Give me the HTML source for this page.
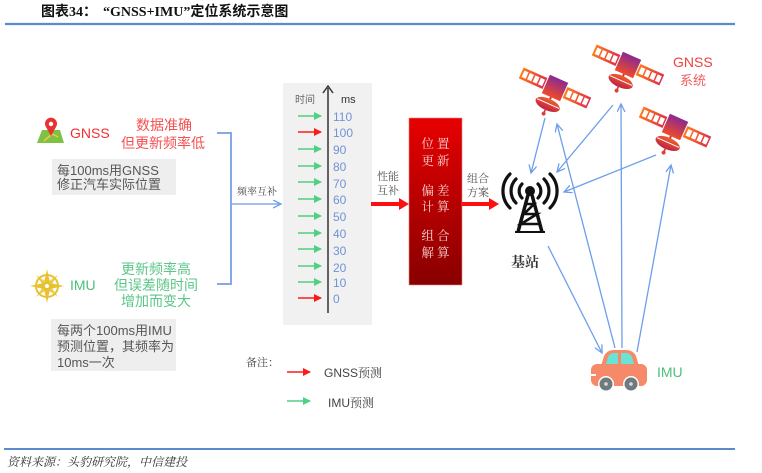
<!DOCTYPE html>
<html><head><meta charset="utf-8"><style>
html,body{margin:0;padding:0;background:#fff;}
svg{display:block;}
.s{font-family:"Liberation Sans","Noto Sans CJK SC",sans-serif;}
.r{font-family:"Liberation Serif","Noto Serif CJK SC",serif;}
</style></head><body>
<svg width="762" height="473" viewBox="0 0 762 473" xmlns="http://www.w3.org/2000/svg">
<defs>
<linearGradient id="redbox" x1="0" y1="0" x2="0" y2="1"><stop offset="0" stop-color="#e60000"/><stop offset="1" stop-color="#880000"/></linearGradient>
<linearGradient id="sg" x1="0" y1="0" x2="1" y2="0"><stop offset="0" stop-color="#ff7a1a"/><stop offset="1" stop-color="#e0304a"/></linearGradient>
<linearGradient id="sb" x1="0" y1="0" x2="0" y2="1"><stop offset="0" stop-color="#8a2a90"/><stop offset="1" stop-color="#f04a2a"/></linearGradient>
<linearGradient id="sd" x1="0" y1="0" x2="0" y2="1"><stop offset="0" stop-color="#f06030"/><stop offset="1" stop-color="#c02040"/></linearGradient>
<marker id="ab" markerUnits="userSpaceOnUse" markerWidth="10" markerHeight="10" refX="8" refY="4" orient="auto"><path d="M0,0 L8,4 L0,8" fill="none" stroke="#6d9eeb" stroke-width="1.3"/></marker>
<marker id="ag" markerUnits="userSpaceOnUse" markerWidth="10" markerHeight="10" refX="7" refY="4" orient="auto"><path d="M0,0 L8,4 L0,8 Z" fill="#4fd083"/></marker>
<marker id="ar" markerUnits="userSpaceOnUse" markerWidth="10" markerHeight="10" refX="7" refY="4" orient="auto"><path d="M0,0 L8,4 L0,8 Z" fill="#ff1a1a"/></marker>
<g id="sat">
  <rect x="-37" y="-6" width="26" height="12" fill="url(#sg)"/>
  <rect x="-35" y="-3.5" width="4.5" height="7" fill="#fff"/>
  <rect x="-29" y="-3.5" width="4.5" height="7" fill="#fff"/>
  <rect x="-23" y="-3.5" width="4.5" height="7" fill="#fff"/>
  <rect x="-17" y="-3.5" width="4.5" height="7" fill="#fff"/>
  <rect x="11" y="-6" width="26" height="12" fill="url(#sg)"/>
  <rect x="13" y="-3.5" width="4.5" height="7" fill="#fff"/>
  <rect x="19" y="-3.5" width="4.5" height="7" fill="#fff"/>
  <rect x="25" y="-3.5" width="4.5" height="7" fill="#fff"/>
  <rect x="31" y="-3.5" width="4.5" height="7" fill="#fff"/>
  <rect x="-10" y="-10" width="20" height="20" fill="url(#sb)"/>
  <line x1="0" y1="10" x2="0" y2="14" stroke="#d03040" stroke-width="2"/>
  <ellipse cx="0" cy="18" rx="13" ry="6" fill="url(#sd)"/>
  <line x1="-12" y1="17" x2="12" y2="17" stroke="#fff" stroke-width="1"/>
  <line x1="0" y1="22" x2="0" y2="27" stroke="#d03040" stroke-width="1.5"/>
  <circle cx="0" cy="28" r="2" fill="#e04030"/>
</g>
</defs>

<!-- title -->
<text x="41" y="16" font-size="14" font-weight="bold" fill="#111" font-family="'Liberation Serif','Noto Sans CJK SC',sans-serif">图表34：</text>
<text x="103" y="16" font-size="14" font-weight="bold" fill="#111" font-family="'Liberation Serif','Noto Sans CJK SC',sans-serif">“GNSS+IMU”定位系统示意图</text>
<line x1="5" y1="24" x2="735" y2="24" stroke="#5b8bc9" stroke-width="2.2"/>

<!-- GNSS icon -->
<polygon points="37,143 64,143 60,130 42,130" fill="#7dc242"/>
<path d="M44,141 L52,134 L58,137" stroke="#e8d040" stroke-width="1.5" fill="none"/>
<path d="M51,136 L46,127 A6,6 0 1 1 56,127 Z" fill="#e83232"/>
<circle cx="51" cy="124" r="2.2" fill="#fff"/>
<text x="70" y="138" font-size="14" fill="#f03030" class="s">GNSS</text>
<text x="164" y="130" font-size="14" fill="#f45050" text-anchor="middle" class="s">数据准确</text>
<text x="163" y="148" font-size="14" fill="#f45050" text-anchor="middle" class="s">但更新频率低</text>
<rect x="52" y="159" width="124" height="36" fill="#eeeeee"/>
<text x="57" y="175" font-size="13" fill="#555" class="s">每100ms用GNSS</text>
<text x="57" y="189" font-size="13" fill="#555" class="s">修正汽车实际位置</text>

<!-- IMU icon -->
<g transform="translate(47,286)" fill="#e8c12e">
  <circle r="11" fill="none" stroke="#e8c12e" stroke-width="2"/>
  <polygon points="0,-17 3,-3 17,0 3,3 0,17 -3,3 -17,0 -3,-3"/>
  <polygon points="-11,-11 2,-2 11,11 -2,2" opacity="0.85"/>
  <polygon points="11,-11 2,2 -11,11 -2,-2" opacity="0.85"/>
  <circle r="2" fill="#fff"/>
</g>
<text x="70" y="290" font-size="14" fill="#4cc07a" class="s">IMU</text>
<text x="156" y="274" font-size="14" fill="#5cc688" text-anchor="middle" class="s">更新频率高</text>
<text x="156" y="290" font-size="14" fill="#5cc688" text-anchor="middle" class="s">但误差随时间</text>
<text x="156" y="306" font-size="14" fill="#5cc688" text-anchor="middle" class="s">增加而变大</text>
<rect x="51" y="319" width="125" height="52" fill="#eeeeee"/>
<text x="57" y="335" font-size="13" fill="#555" class="s">每两个100ms用IMU</text>
<text x="57" y="351" font-size="13" fill="#555" class="s">预测位置，其频率为</text>
<text x="57" y="367" font-size="13" fill="#555" class="s">10ms一次</text>

<!-- bracket -->
<polyline points="217,133 231,133 231,284 217,284" fill="none" stroke="#86a8e8" stroke-width="2"/>
<line x1="231" y1="204" x2="281" y2="204" stroke="#86a8e8" stroke-width="1.5" marker-end="url(#ab)"/>
<text x="237" y="195" font-size="10" fill="#444" class="r">频率互补</text>

<!-- time panel -->
<rect x="283" y="83" width="89" height="242" fill="#f1f1f1"/>
<line x1="328" y1="313" x2="328" y2="88" stroke="#333" stroke-width="1.5"/>
<path d="M323,93 L328,86 L333,93" fill="none" stroke="#333" stroke-width="1.5"/>
<text x="295" y="103" font-size="10" fill="#666" class="s">时间</text>
<text x="341" y="103" font-size="11" fill="#333" class="s">ms</text>
<g stroke-width="1.5">
<line x1="298" y1="116" x2="321" y2="116" stroke="#4fd083" marker-end="url(#ag)"/>
<line x1="298" y1="132" x2="321" y2="132" stroke="#ff1a1a" marker-end="url(#ar)"/>
<line x1="298" y1="149" x2="321" y2="149" stroke="#4fd083" marker-end="url(#ag)"/>
<line x1="298" y1="166" x2="321" y2="166" stroke="#4fd083" marker-end="url(#ag)"/>
<line x1="298" y1="182" x2="321" y2="182" stroke="#4fd083" marker-end="url(#ag)"/>
<line x1="298" y1="199" x2="321" y2="199" stroke="#4fd083" marker-end="url(#ag)"/>
<line x1="298" y1="216" x2="321" y2="216" stroke="#4fd083" marker-end="url(#ag)"/>
<line x1="298" y1="233" x2="321" y2="233" stroke="#4fd083" marker-end="url(#ag)"/>
<line x1="298" y1="249" x2="321" y2="249" stroke="#4fd083" marker-end="url(#ag)"/>
<line x1="298" y1="266" x2="321" y2="266" stroke="#4fd083" marker-end="url(#ag)"/>
<line x1="298" y1="282" x2="321" y2="282" stroke="#4fd083" marker-end="url(#ag)"/>
<line x1="298" y1="298" x2="321" y2="298" stroke="#ff1a1a" marker-end="url(#ar)"/>
</g>
<g font-size="12" fill="#7292d8" class="s">
<text x="333" y="121">110</text>
<text x="333" y="137">100</text>
<text x="333" y="154">90</text>
<text x="333" y="171">80</text>
<text x="333" y="188">70</text>
<text x="333" y="204">60</text>
<text x="333" y="221">50</text>
<text x="333" y="238">40</text>
<text x="333" y="255">30</text>
<text x="333" y="272">20</text>
<text x="333" y="287">10</text>
<text x="333" y="303">0</text>
</g>

<!-- red block -->
<text x="377" y="180" font-size="11" fill="#555" class="r">性能</text>
<text x="377" y="194" font-size="11" fill="#555" class="r">互补</text>
<line x1="371" y1="204" x2="400" y2="204" stroke="#ff1010" stroke-width="4"/>
<polygon points="399,198 409,204 399,210" fill="#ff1010"/>
<rect x="409" y="118" width="53" height="167" fill="url(#redbox)" stroke="#f08080" stroke-width="0.6"/>
<g font-size="12.5" fill="#f8d4d4" text-anchor="middle" letter-spacing="3" class="r">
<text x="437" y="148">位置</text>
<text x="437" y="165">更新</text>
<text x="437" y="195">偏差</text>
<text x="437" y="211">计算</text>
<text x="437" y="240">组合</text>
<text x="437" y="257">解算</text>
</g>
<text x="467" y="182" font-size="11" fill="#555" class="r">组合</text>
<text x="467" y="196" font-size="11" fill="#555" class="r">方案</text>
<line x1="462" y1="204" x2="490" y2="204" stroke="#ff1010" stroke-width="4"/>
<polygon points="489,198 499,204 489,210" fill="#ff1010"/>

<!-- tower -->
<g fill="none" stroke="#111" stroke-width="3.2" stroke-linecap="round">
<path d="M522,184 A10,10 0 0 0 522,198"/>
<path d="M516,179 A17,17 0 0 0 516,203"/>
<path d="M510,174 A24,24 0 0 0 510,208"/>
<path d="M538,184 A10,10 0 0 1 538,198"/>
<path d="M544,179 A17,17 0 0 1 544,203"/>
<path d="M550,174 A24,24 0 0 1 550,208"/>
</g>
<circle cx="530" cy="191" r="5" fill="#111"/>
<g stroke="#111" stroke-width="3.5" fill="none">
<line x1="528" y1="195" x2="518" y2="232"/>
<line x1="532" y1="195" x2="542" y2="232"/>
<path d="M526,204 L534,204 L524,214 L537,214 L521,224 L540,224" stroke-width="2.6"/>
<line x1="515" y1="232" x2="545" y2="232" stroke-width="2"/>
</g>
<text x="511" y="267" font-size="14" font-weight="bold" fill="#333" class="r">基站</text>

<!-- satellites -->
<use href="#sat" transform="translate(555,88) rotate(24)"/>
<use href="#sat" transform="translate(628,65) rotate(24)"/>
<use href="#sat" transform="translate(675,127) rotate(24)"/>
<text x="673" y="67" font-size="14" fill="#f04040" class="s">GNSS</text>
<text x="680" y="85" font-size="13" fill="#f06060" class="s">系统</text>

<!-- connectors -->
<g stroke="#6d9eeb" stroke-width="1.3" fill="none">
<line x1="545" y1="118" x2="531" y2="173" marker-end="url(#ab)"/>
<line x1="615" y1="348" x2="557" y2="124" marker-end="url(#ab)"/>
<line x1="613" y1="105" x2="557" y2="172" marker-end="url(#ab)"/>
<line x1="622" y1="348" x2="621" y2="104" marker-end="url(#ab)"/>
<line x1="656" y1="155" x2="564" y2="192" marker-end="url(#ab)"/>
<line x1="637" y1="352" x2="671" y2="165" marker-end="url(#ab)"/>
<line x1="548" y1="246" x2="602" y2="353" marker-end="url(#ab)"/>
</g>

<!-- car -->
<path d="M601,366 L604,356 Q607,350 614,350 L626,350 Q633,350 636,356 L639,366 Z" fill="#f7896b"/>
<path d="M606,364 L608,357 Q610,353 614,353 L618,353 L618,364 Z" fill="#69e3d3"/>
<path d="M621,364 L621,353 L626,353 Q630,353 632,357 L634,364 Z" fill="#69e3d3"/>
<rect x="591" y="364" width="56" height="22" rx="6" fill="#f7896b"/>
<rect x="591" y="374" width="5" height="2" fill="#fff"/>
<circle cx="606" cy="384" r="8" fill="#fff"/>
<circle cx="606" cy="384" r="6.5" fill="#6f7a7e"/>
<circle cx="606" cy="384" r="1.8" fill="#ddd"/>
<circle cx="631" cy="384" r="8" fill="#fff"/>
<circle cx="631" cy="384" r="6.5" fill="#6f7a7e"/>
<circle cx="631" cy="384" r="1.8" fill="#ddd"/>
<text x="657" y="377" font-size="14" fill="#4cc07a" class="s">IMU</text>

<!-- legend -->
<text x="246" y="366" font-size="11" fill="#444" class="r">备注：</text>
<line x1="287" y1="372" x2="310" y2="372" stroke="#ff1a1a" stroke-width="1.5" marker-end="url(#ar)"/>
<text x="324" y="377" font-size="12" fill="#444" class="s">GNSS<tspan font-family="'Liberation Serif','Noto Serif CJK SC',serif">预测</tspan></text>
<line x1="287" y1="401" x2="310" y2="401" stroke="#4fd083" stroke-width="1.5" marker-end="url(#ag)"/>
<text x="328" y="407" font-size="12" fill="#444" class="s">IMU<tspan font-family="'Liberation Serif','Noto Serif CJK SC',serif">预测</tspan></text>

<!-- footer -->
<line x1="4" y1="449" x2="735" y2="449" stroke="#5b8bc9" stroke-width="2"/>
<text x="7" y="466" font-size="12" font-style="italic" fill="#333" class="r">资料来源：头豹研究院，中信建投</text>
</svg>
</body></html>
